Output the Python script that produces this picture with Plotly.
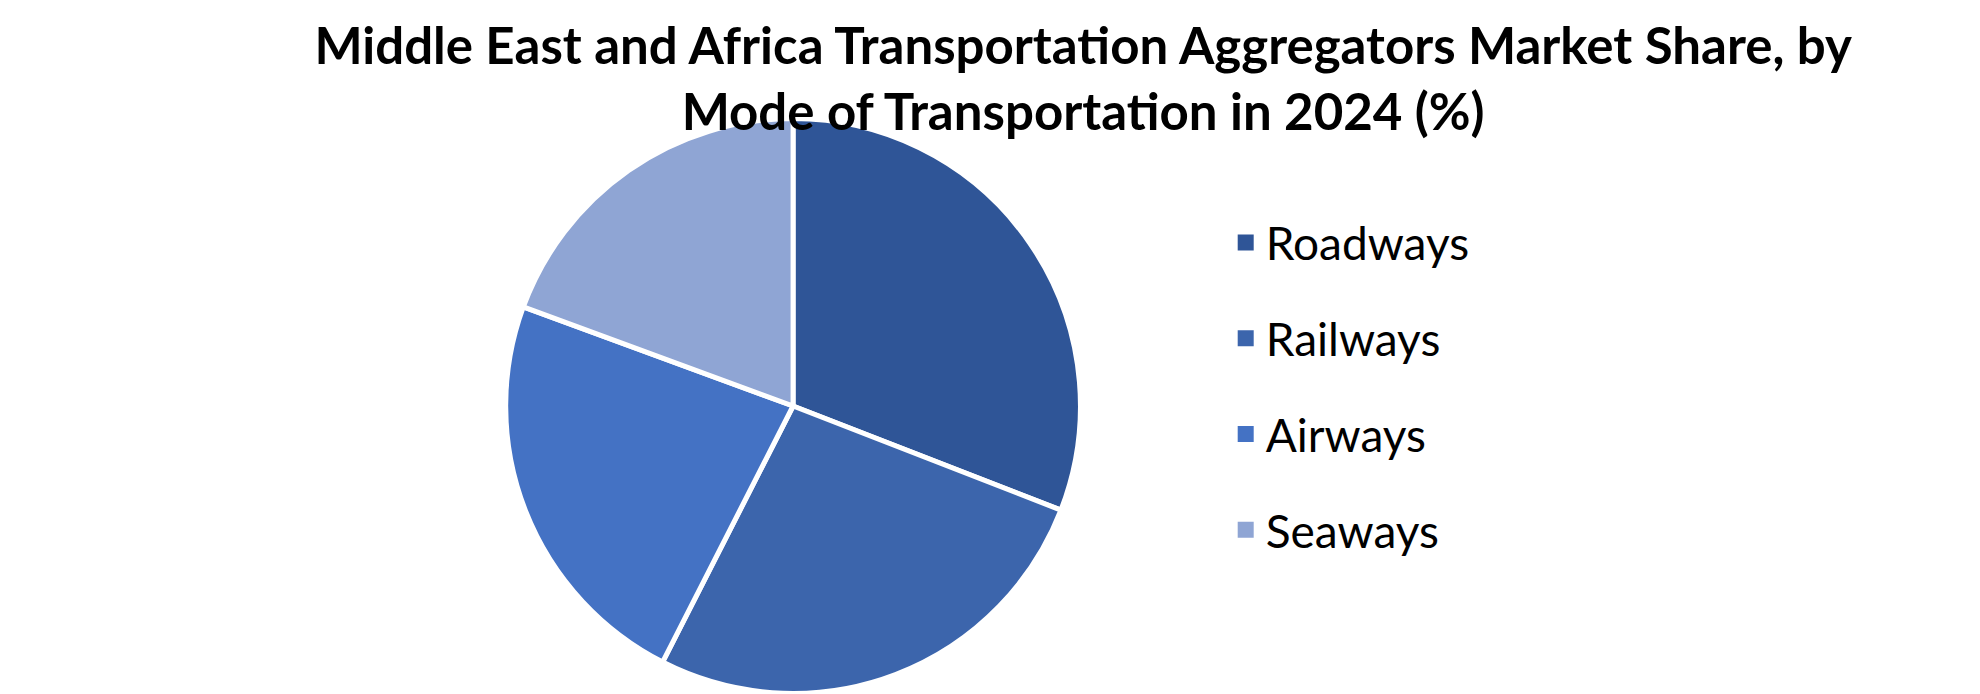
import plotly.graph_objects as go

# market share by mode of transportation, 2024 (%)
modes = ['Roadways', 'Railways', 'Airways', 'Seaways']
share = [30.9, 26.6, 23.1, 19.4]
colours = ['#2F5597', '#3C65AC', '#4472C4', '#8FA5D4']

title_text = ('Middle East and Africa Transportation Aggregators Market Share, by'
              '<br>Mode of Transportation in 2024 (%)')

fig = go.Figure()

fig.add_trace(go.Pie(labels=modes, values=share,
                     marker=dict(colors=colours, line=dict(color='white', width=5)),
                     sort=False, direction='clockwise', rotation=0,
                     textinfo='none', showlegend=False,
                     domain=dict(x=[0.2513, 0.5417], y=[0.0124, 0.8406])))

# legend entries as dummy square markers so the gap between rows can be set
for m, c in zip(modes, colours):
    fig.add_trace(go.Scatter(x=[None], y=[None], mode='markers', name=m,
                             legendgroup=m,
                             marker=dict(symbol='square', size=21, color=c)))

fig.update_layout(width=1980, height=694,
                  margin=dict(l=0, r=0, t=0, b=0),
                  paper_bgcolor='white', plot_bgcolor='white',
                  font=dict(family='Lato', color='black'),
                  title=dict(text=title_text, x=0.543, xanchor='center',
                             y=0.92, yanchor='top',
                             font=dict(family='Lato', size=51, color='black', weight='bold')),
                  xaxis=dict(visible=False), yaxis=dict(visible=False),
                  legend=dict(x=0.615, xanchor='left', y=0.4546, yanchor='middle',
                              traceorder='grouped', tracegroupgap=33,
                              font=dict(family='Lato', size=46, color='black')))

fig.write_html('out.html')
